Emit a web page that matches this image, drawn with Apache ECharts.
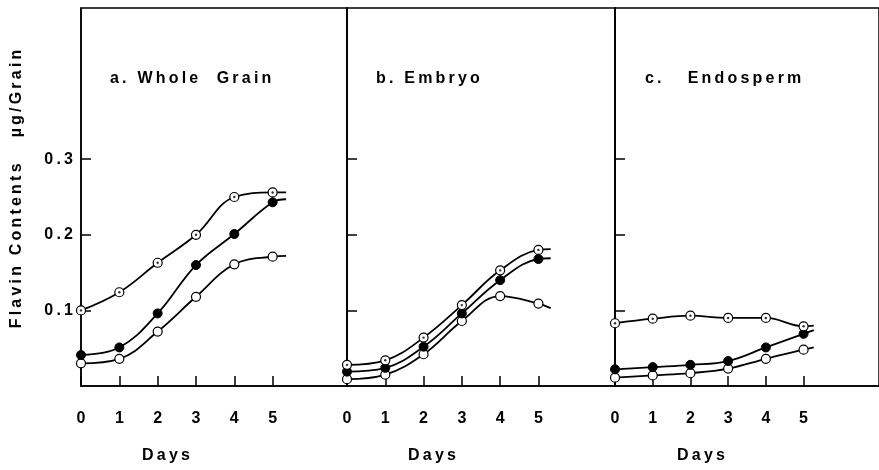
<!DOCTYPE html>
<html>
<head>
<meta charset="utf-8">
<script src="https://cdn.jsdelivr.net/npm/echarts@6/dist/echarts.min.js"></script>
<style>
  html, body { margin: 0; background: #fff; }
  #chart { width: 879px; height: 470px; }
</style>
</head>
<body>
<div id="chart"></div>
<script>
// data (µg/grain)
const days = [0, 1, 2, 3, 4, 5];
const dayTicks = [0, 1, 2, 3, 4, 5];
const yTicks = [0.1, 0.2, 0.3];
const panelTitles = ['a. Whole  Grain', 'b. Embryo', 'c.   Endosperm'];

const wholeDotted = [0.100, 0.124, 0.163, 0.200, 0.250, 0.256];
const wholeFilled = [0.041, 0.051, 0.096, 0.160, 0.201, 0.243];
const wholeOpen = [0.030, 0.036, 0.072, 0.118, 0.161, 0.171];
const wholeTailX = 5.35;
const wholeTail = [0.256, 0.247, 0.172];

const embryoDotted = [0.028, 0.034, 0.064, 0.107, 0.153, 0.180];
const embryoFilled = [0.019, 0.024, 0.052, 0.096, 0.140, 0.168];
const embryoOpen = [0.009, 0.015, 0.042, 0.086, 0.119, 0.109];
const embryoTailX = 5.32;
const embryoTail = [0.181, 0.169, 0.103];

const endoDotted = [0.083, 0.089, 0.093, 0.090, 0.090, 0.079];
const endoFilled = [0.022, 0.025, 0.028, 0.033, 0.051, 0.069];
const endoOpen = [0.011, 0.014, 0.017, 0.023, 0.036, 0.048];
const endoTailX = 5.27;
const endoTail = [0.080, 0.074, 0.051];

const FONT = '"Liberation Sans", Arial, sans-serif';
const spaced = s => String(s).split('').join('\u2009');

const grids = [
  { left: 81, top: 8, width: 266, height: 378 },
  { left: 347, top: 8, width: 268, height: 378 },
  { left: 615, top: 8, width: 270, height: 378 }
];
const xMax = [6.94, 7.0, 7.0];

const chart = echarts.init(document.getElementById('chart'));

const xAxis = grids.map((g, i) => ({
  type: 'value',
  gridIndex: i,
  min: 0,
  max: xMax[i],
  axisLine: { lineStyle: { color: '#000', width: 1.5 } },
  axisTick: { inside: true, length: 10, customValues: dayTicks, lineStyle: { color: '#000', width: 1.5 } },
  axisLabel: {
    customValues: dayTicks,
    margin: 25,
    color: '#000',
    fontFamily: FONT,
    fontWeight: 'bold',
    fontSize: 16
  },
  splitLine: { show: false }
}));

const yAxis = grids.map((g, i) => ({
  type: 'value',
  gridIndex: i,
  min: 0,
  max: 0.5,
  axisLine: { show: true, lineStyle: { color: '#000', width: 1.5 } },
  axisTick: { show: true, inside: true, length: 10, customValues: yTicks, lineStyle: { color: '#000', width: 1.5 } },
  axisLabel: {
    show: i === 0,
    customValues: yTicks,
    margin: 8,
    color: '#000',
    fontFamily: FONT,
    fontWeight: 'bold',
    fontSize: 16,
    formatter: v => spaced(v.toFixed(1))
  },
  splitLine: { show: false }
}));

function lineSeries(gi, vals, tailX, tailVal, kind) {
  const data = days.map((d, i) => [d, vals[i]]);
  data.push({ value: [tailX, tailVal], symbol: 'none' });
  return {
    type: 'line',
    xAxisIndex: gi,
    yAxisIndex: gi,
    data: data,
    smooth: 0.4,
    clip: false,
    symbol: 'circle',
    symbolSize: 9,
    showAllSymbol: true,
    lineStyle: { color: '#000', width: 1.8 },
    itemStyle: kind === 'filled'
      ? { color: '#000', borderColor: '#000', borderWidth: 1 }
      : { color: '#fff', borderColor: '#000', borderWidth: 1.2 },
    emphasis: { disabled: true },
    z: 3
  };
}

function dotSeries(gi, vals) {
  return {
    type: 'scatter',
    xAxisIndex: gi,
    yAxisIndex: gi,
    data: days.map((d, i) => [d, vals[i]]),
    symbolSize: 2.4,
    clip: false,
    itemStyle: { color: '#000' },
    emphasis: { disabled: true },
    z: 5
  };
}

const panels = [
  [wholeDotted, wholeFilled, wholeOpen, wholeTailX, wholeTail],
  [embryoDotted, embryoFilled, embryoOpen, embryoTailX, embryoTail],
  [endoDotted, endoFilled, endoOpen, endoTailX, endoTail]
];

const series = [];
panels.forEach((p, gi) => {
  const [dotted, filled, open, tx, tail] = p;
  series.push(lineSeries(gi, open, tx, tail[2], 'open'));
  series.push(lineSeries(gi, filled, tx, tail[1], 'filled'));
  series.push(lineSeries(gi, dotted, tx, tail[0], 'dotted'));
  series.push(dotSeries(gi, dotted));
});

const titleX = [110, 376, 645];
const daysX = [166, 432, 701];

const graphic = [];
panelTitles.forEach((t, i) => {
  graphic.push({
    type: 'text',
    x: titleX[i],
    y: 79,
    style: {
      text: spaced(t),
      fill: '#000',
      fontFamily: FONT,
      fontWeight: 'bold',
      fontSize: 16,
      textAlign: 'left',
      textVerticalAlign: 'middle'
    }
  });
  graphic.push({
    type: 'text',
    x: daysX[i],
    y: 456,
    style: {
      text: spaced('Days'),
      fill: '#000',
      fontFamily: FONT,
      fontWeight: 'bold',
      fontSize: 16,
      textAlign: 'center',
      textVerticalAlign: 'middle'
    }
  });
});
graphic.push({
  type: 'text',
  x: 17,
  y: 189,
  rotation: Math.PI / 2,
  style: {
    text: spaced('Flavin Contents   µg/Grain'),
    fill: '#000',
    fontFamily: FONT,
    fontWeight: 'bold',
    fontSize: 16,
    textAlign: 'center',
    textVerticalAlign: 'middle'
  }
});

chart.setOption({
  animation: false,
  backgroundColor: '#fff',
  grid: grids.map(g => Object.assign({ show: true, borderColor: '#000', borderWidth: 1.5, backgroundColor: 'transparent' }, g)),
  xAxis: xAxis,
  yAxis: yAxis,
  series: series,
  graphic: graphic
});
</script>
</body>
</html>
